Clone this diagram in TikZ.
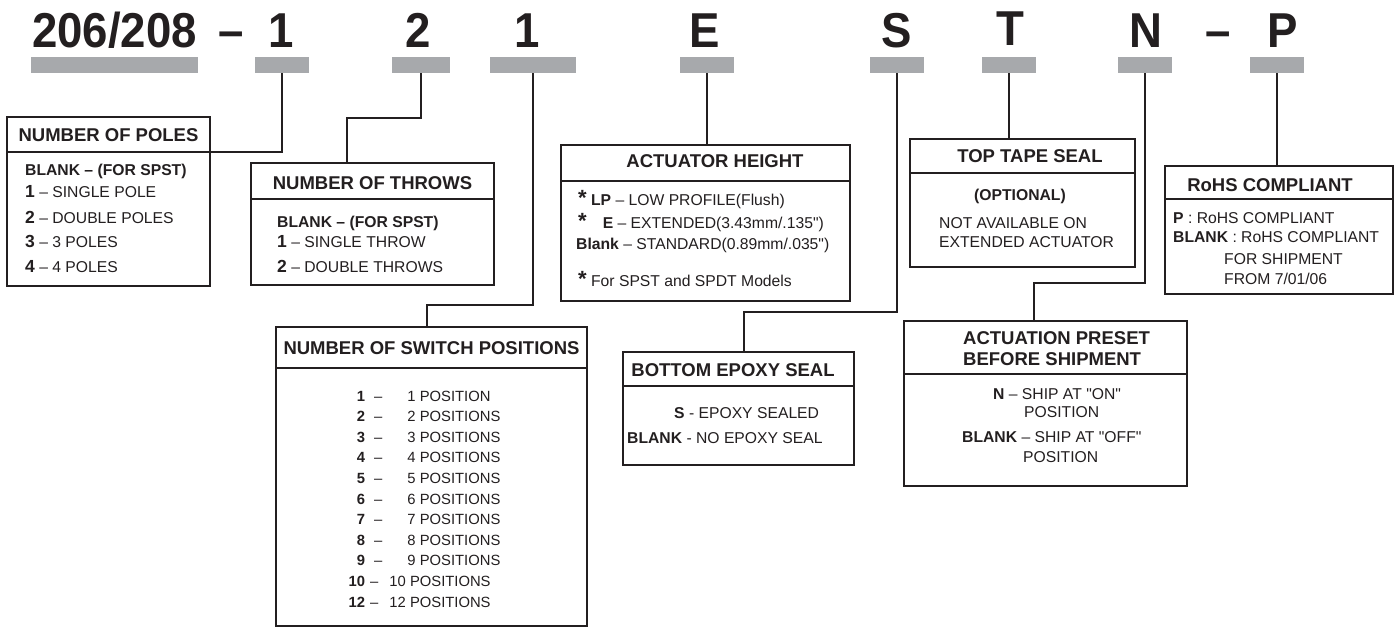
\documentclass[tikz,border=0pt]{standalone}
\usepackage{fontspec}
\setmainfont{Liberation Sans}
\definecolor{ink}{HTML}{231F20}
\definecolor{bargray}{HTML}{A7A9AC}
\newcommand{\bnum}[1]{{\fontsize{17.5}{17.5}\selectfont\bfseries #1}}
\newcommand{\bigast}{{\fontsize{22}{22}\selectfont\bfseries *}}
\newcommand{\swone}[2]{\makebox[17pt][r]{\textbf{#1}}\hspace{9pt}–\hspace{25pt}#2}
\newcommand{\swtwo}[2]{\makebox[17pt][r]{\textbf{#1}}\hspace{5pt}–\hspace{11pt}#2}
\newcommand{\qd}{\textquotedbl}

\begin{document}
\begin{tikzpicture}[x=1pt, y=-1pt,
   head/.style={draw=ink, line width=2.4pt, anchor=north west, inner sep=0pt, outer sep=0pt},
   body/.style={head},
   bar/.style={fill=bargray, minimum width=54pt, minimum height=16pt, inner sep=0pt},
   digit/.style={font=\fontsize{49}{49}\selectfont\bfseries, text=ink, anchor=base, inner sep=0pt, xscale=0.93, transform shape},
   title/.style={font=\fontsize{18.5}{21}\selectfont\bfseries, text=ink, anchor=base, inner sep=0pt},
   txt/.style={font=\fontsize{15.7}{25}\selectfont, text=ink, anchor=base west, inner sep=0pt, align=left},
   wire/.style={draw=ink, line width=2pt}]

    \fill[white] (0,0) rectangle (1400,628);
    \useasboundingbox (0,0) rectangle (1400,628);

    % part number
    \node[digit] (baseC) at (114.5,48) {206/208};
    \node[digit] (dashA) at (231,48) {–};
    \node[digit] (poleC) at (281,48) {1};
    \node[digit] (throwC) at (418,48) {2};
    \node[digit] (posC) at (527,48) {1};
    \node[digit] (heightC) at (705,48) {E};
    \node[digit] (epoxyC) at (897,48) {S};
    \node[digit] (tapeC) at (1010,46) {T};
    \node[digit] (presetC) at (1146,48) {N};
    \node[digit] (dashB) at (1218,48) {–};
    \node[digit] (rohsC) at (1283,48) {P};

    % gray bars
    \node[bar, minimum width=167pt] (baseBar) at (114.5,65) {};
    \node[bar] (poleBar) at (282,65) {};
    \node[bar, minimum width=58pt] (throwBar) at (421,65) {};
    \node[bar, minimum width=86pt] (posBar) at (533,65) {};
    \node[bar] (heightBar) at (707,65) {};
    \node[bar] (epoxyBar) at (897,65) {};
    \node[bar] (tapeBar) at (1009,65) {};
    \node[bar] (presetBar) at (1145,65) {};
    \node[bar] (rohsBar) at (1277,65) {};

    % number of poles (multi-line texts sit on their last baseline)
    \node[head, minimum width=203pt, minimum height=35pt] (polesH) at (7,117) {};
    \node[body, minimum width=203pt, minimum height=134pt] (polesB) at (polesH.south west) {};
    \node[title] (polesT) at (108.5,142) {NUMBER OF POLES};
    \node[txt] (polesL) at (25,273) {\textbf{BLANK – (FOR SPST)}\\[-3pt]
       \bnum{1} – SINGLE POLE\\ \bnum{2} – DOUBLE POLES\\ \bnum{3} – 3 POLES\\ \bnum{4} – 4 POLES};

    % number of throws
    \node[head, minimum width=243pt, minimum height=36pt] (throwsH) at (251,163) {};
    \node[body, minimum width=243pt, minimum height=86pt] (throwsB) at (throwsH.south west) {};
    \node[title] (throwsT) at (372.5,190) {NUMBER OF THROWS};
    \node[txt] (throwsL) at (277,273) {\textbf{BLANK – (FOR SPST)}\\[-4pt]
       \bnum{1} – SINGLE THROW\\ \bnum{2} – DOUBLE THROWS};

    % number of switch positions
    \node[head, minimum width=311pt, minimum height=41pt] (switchH) at (276,327) {};
    \node[body, minimum width=311pt, minimum height=258pt] (switchB) at (switchH.south west) {};
    \node[title] (switchT) at (431.5,354) {NUMBER OF SWITCH POSITIONS};
    \node[txt, font=\fontsize{14.8}{20.6}\selectfont] (switchL) at (348,607) {\swone{1}{1 POSITION}\\
       \swone{2}{2 POSITIONS}\\ \swone{3}{3 POSITIONS}\\ \swone{4}{4 POSITIONS}\\
       \swone{5}{5 POSITIONS}\\ \swone{6}{6 POSITIONS}\\ \swone{7}{7 POSITIONS}\\
       \swone{8}{8 POSITIONS}\\ \swone{9}{9 POSITIONS}\\ \swtwo{10}{10 POSITIONS}\\
       \swtwo{12}{12 POSITIONS}};

    % actuator height
    \node[head, minimum width=289pt, minimum height=36pt] (heightH) at (561,145) {};
    \node[body, minimum width=289pt, minimum height=120pt] (heightB) at (heightH.south west) {};
    \node[title] (heightT) at (715,168) {ACTUATOR HEIGHT};
    \node[txt, font=\fontsize{15.7}{21}\selectfont] (heightL) at (576,287) {\hspace*{2pt}\bigast\ \textbf{LP} – LOW PROFILE(Flush)\\[2pt]
       \hspace*{2pt}\bigast\hspace{16pt}\textbf{E} – EXTENDED(3.43mm/.135\qd)\\
       \textbf{Blank} – STANDARD(0.89mm/.035\qd)\\[16pt]
       \hspace*{2pt}\bigast\ For SPST and SPDT Models};

    % bottom epoxy seal
    \node[head, minimum width=231pt, minimum height=34pt] (epoxyH) at (623,352) {};
    \node[body, minimum width=231pt, minimum height=79pt] (epoxyB) at (epoxyH.south west) {};
    \node[title] (epoxyT) at (733,376) {BOTTOM EPOXY SEAL};
    \node[txt] (epoxyL) at (627,443) {\hspace*{47pt}\textbf{S} - EPOXY SEALED\\ \textbf{BLANK} - NO EPOXY SEAL};

    % top tape seal
    \node[head, minimum width=225pt, minimum height=34pt] (tapeH) at (910,139) {};
    \node[body, minimum width=225pt, minimum height=94pt] (tapeB) at (tapeH.south west) {};
    \node[title] (tapeT) at (1030,163) {TOP TAPE SEAL};
    \node[txt, anchor=base, font=\fontsize{15.7}{19}\selectfont\bfseries] (tapeO) at (1020,201) {(OPTIONAL)};
    \node[txt, font=\fontsize{15.7}{19}\selectfont] (tapeL) at (939,248) {NOT AVAILABLE ON\\ EXTENDED ACTUATOR};

    % actuation preset
    \node[head, minimum width=283pt, minimum height=53pt] (presetH) at (904,321) {};
    \node[body, minimum width=283pt, minimum height=112pt] (presetB) at (presetH.south west) {};
    \node[title, anchor=base west, align=left] (presetT) at (963,365) {ACTUATION PRESET\\ BEFORE SHIPMENT};
    \node[txt, font=\fontsize{15.7}{20}\selectfont] (presetL) at (962,462) {\hspace*{31pt}\textbf{N} – SHIP AT \qd ON\qd\\[-2pt]
       \hspace*{62pt}POSITION\\[5pt] \textbf{BLANK} – SHIP AT \qd OFF\qd\\ \hspace*{61pt}POSITION};

    % rohs
    \node[head, minimum width=228pt, minimum height=33pt] (rohsH) at (1165,166) {};
    \node[body, minimum width=228pt, minimum height=95pt] (rohsB) at (rohsH.south west) {};
    \node[title] (rohsT) at (1270,192) {RoHS COMPLIANT};
    \node[txt, font=\fontsize{15.7}{20}\selectfont] (rohsL) at (1173,285) {\textbf{P} : RoHS COMPLIANT\\ \textbf{BLANK} : RoHS COMPLIANT\\[2pt]
       \hspace*{51pt}FOR SHIPMENT\\ \hspace*{51pt}FROM 7/01/06};

    % connectors
    \draw[wire] (poleBar.south) |- (polesH.south east);
    \draw[wire] (throwBar.south) -- ++(0,45) -| ([xshift=96pt]throwsH.north west);
    \draw[wire] (posBar.south) -- ++(0,232) -| ([xshift=151pt]switchH.north west);
    \draw[wire] (heightBar.south) -- (heightBar.south |- heightH.north);
    \draw[wire] (epoxyBar.south) -- ++(0,239) -| ([xshift=121pt]epoxyH.north west);
    \draw[wire] (tapeBar.south) -- (tapeBar.south |- tapeH.north);
    \draw[wire] (presetBar.south) -- ++(0,210) -| ([xshift=130pt]presetH.north west);
    \draw[wire] (rohsBar.south) -- (rohsBar.south |- rohsH.north);
\end{tikzpicture}
\end{document}
